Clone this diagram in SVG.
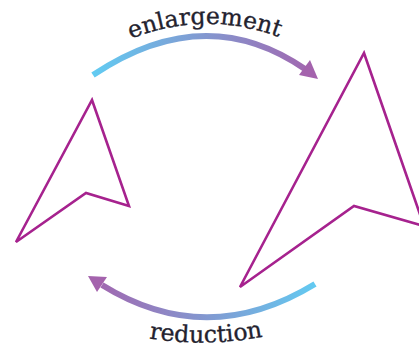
<svg xmlns="http://www.w3.org/2000/svg" width="419" height="349" viewBox="0 0 419 349">
<style>
.shape{fill:none;stroke:#a6228e;stroke-width:2.6;stroke-linejoin:miter}
.lbl{font-family:"DejaVu Serif","Liberation Serif",serif;font-size:23.5px;fill:#23222e;stroke:#23222e;stroke-width:0.35}
</style>
<defs>
<linearGradient id="gTop" gradientUnits="userSpaceOnUse" x1="93" y1="0" x2="318" y2="0">
<stop offset="0" stop-color="#62cbf2"/><stop offset="1" stop-color="#a463ad"/>
</linearGradient>
<linearGradient id="gBot" gradientUnits="userSpaceOnUse" x1="318" y1="0" x2="88" y2="0">
<stop offset="0" stop-color="#62cbf2"/><stop offset="1" stop-color="#a463ad"/>
</linearGradient>
<path id="pTop" d="M116,45 Q205,4 294,43"/>
<path id="pBot" d="M136,336 Q205,350 276,334"/>
</defs>
<g id="connectors">
<g id="enlarge-arrow">
<path d="M93,75 Q205,0 305,69" fill="none" stroke="url(#gTop)" stroke-width="6"/>
<polygon points="318,79 299,75 310,60" fill="#a463ad"/>
</g>
<g id="reduce-arrow">
<path d="M315,284 Q207,350 102,285" fill="none" stroke="url(#gBot)" stroke-width="6"/>
<polygon points="88,276 107,277 97,292" fill="#a463ad"/>
</g>
</g>
<g id="small-shape">
<polygon class="shape" points="92,100 129,206 86,193 16,242"/>
</g>
<g id="large-shape">
<polygon class="shape" points="364,53 424,226 354,206 240,287"/>
</g>
<g id="label-enlargement">
<text class="lbl"><textPath href="#pTop" startOffset="50%" text-anchor="middle">enlargement</textPath></text>
</g>
<g id="label-reduction">
<text class="lbl"><textPath href="#pBot" startOffset="50%" text-anchor="middle">reduction</textPath></text>
</g>
</svg>
